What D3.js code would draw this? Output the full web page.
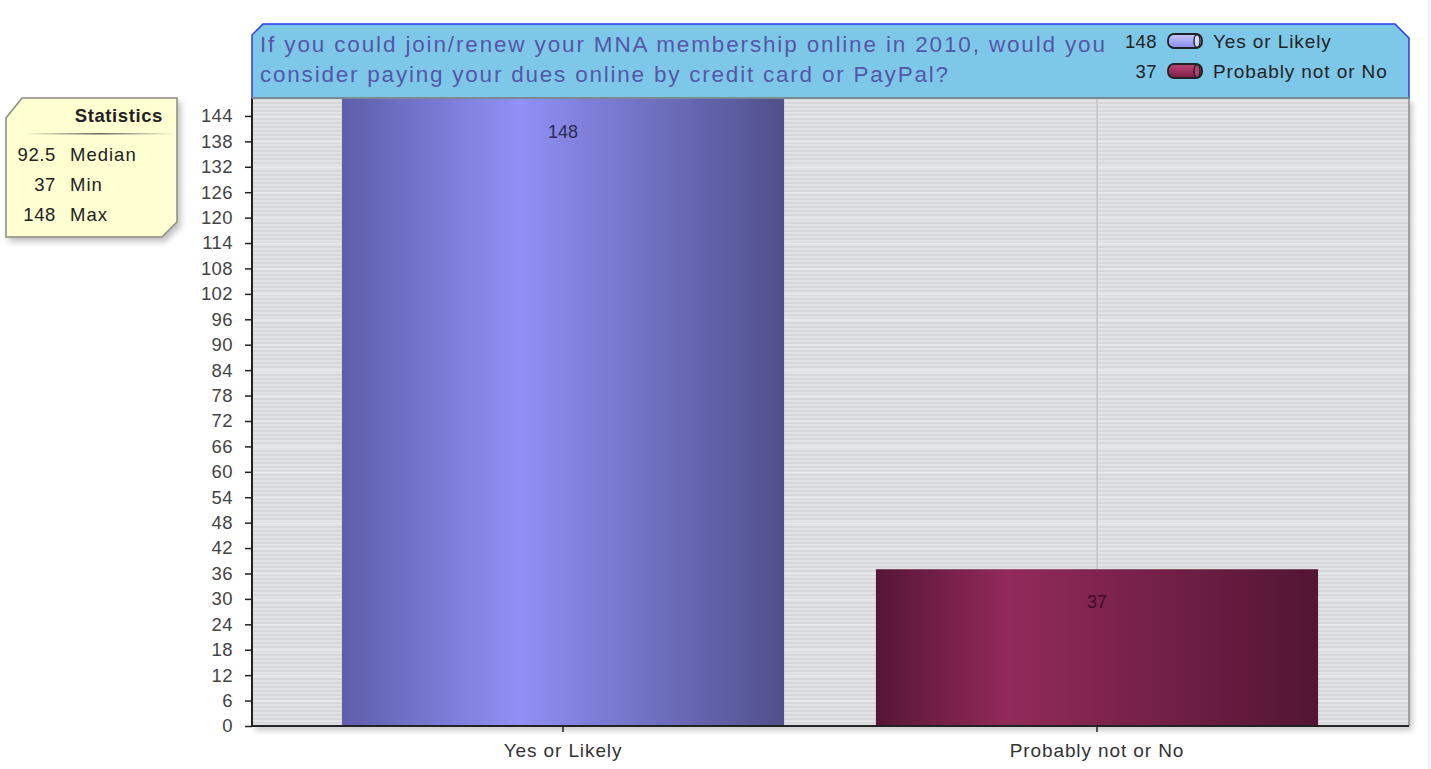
<!DOCTYPE html>
<html><head><meta charset="utf-8">
<script src="https://cdn.jsdelivr.net/npm/d3@7/dist/d3.min.js"></script>
<style>body{margin:0;background:#fff;overflow:hidden}svg{display:block;font-family:"Liberation Sans",Arial,sans-serif}</style>
</head><body><svg id="c" width="1431" height="769"></svg>
<script>
const categories = ["Yes or Likely", "Probably not or No"];
const values = [148, 37];
const yTicks = d3.range(0, 145, 6);
const titleLines = ["If you could join/renew your MNA membership online in 2010, would you", "consider paying your dues online by credit card or PayPal?"];
const statLabels = ["Median", "Min", "Max"];
const statValues = ["92.5", "37", "148"];

const svg = d3.select("#c");
const W = 1431, H = 769;
const L = 252, R = 1409, T = 98, B = 726;
const FF = "Liberation Sans, Arial, sans-serif";

svg.append("rect").attr("x",1427).attr("y",0).attr("width",4).attr("height",H).attr("fill","#eef4fb");

const defs = svg.append("defs");
const gA = defs.append("linearGradient").attr("id","gA");
[[0,"#5e5eaa"],[0.4,"#9090f6"],[1,"#50508c"]].forEach(s=>gA.append("stop").attr("offset",s[0]).attr("stop-color",s[1]));
const gB = defs.append("linearGradient").attr("id","gB");
[[0,"#561636"],[0.3,"#922a5a"],[1,"#521533"]].forEach(s=>gB.append("stop").attr("offset",s[0]).attr("stop-color",s[1]));
const lA = defs.append("linearGradient").attr("id","lA").attr("x1",0).attr("y1",0).attr("x2",0).attr("y2",1);
[[0,"#c8c8ff"],[1,"#8a8af0"]].forEach(s=>lA.append("stop").attr("offset",s[0]).attr("stop-color",s[1]));
const lB = defs.append("linearGradient").attr("id","lB").attr("x1",0).attr("y1",0).attr("x2",0).attr("y2",1);
[[0,"#c04878"],[1,"#7a1d45"]].forEach(s=>lB.append("stop").attr("offset",s[0]).attr("stop-color",s[1]));
const pat = defs.append("pattern").attr("id","stripes").attr("patternUnits","userSpaceOnUse").attr("width",8).attr("height",4);
pat.append("rect").attr("width",8).attr("height",4).attr("fill","#d6d7d9");
pat.append("rect").attr("y",0).attr("width",8).attr("height",2).attr("fill","#e2e3e5");
const sh = defs.append("filter").attr("id","sh").attr("x","-10%").attr("y","-10%").attr("width","130%").attr("height","130%");
sh.append("feGaussianBlur").attr("in","SourceAlpha").attr("stdDeviation",3);
sh.append("feOffset").attr("dx",3).attr("dy",4).attr("result","ob");
sh.append("feComponentTransfer").append("feFuncA").attr("type","linear").attr("slope",0.25);
const m = sh.append("feMerge"); m.append("feMergeNode"); m.append("feMergeNode").attr("in","SourceGraphic");

const y = d3.scaleLinear().domain([0,148]).range([B, 99]);
const x = d3.scaleBand().domain(categories).range([296,1364]).paddingInner(0.172).paddingOuter(0.086);

svg.append("rect").attr("x",L).attr("y",T).attr("width",R-L).attr("height",B-T).attr("fill","url(#stripes)").attr("filter","url(#sh)");
svg.append("g").selectAll("line").data(yTicks).join("line")
  .attr("x1",L).attr("x2",R).attr("y1",d=>y(d)+0.5).attr("y2",d=>y(d)+0.5).attr("stroke","#e9eaec").attr("stroke-width",1.5);
svg.append("g").selectAll("line").data(categories).join("line")
  .attr("x1",d=>x(d)+x.bandwidth()/2).attr("x2",d=>x(d)+x.bandwidth()/2).attr("y1",T).attr("y2",B)
  .attr("stroke","#c4c4c6").attr("stroke-width",1.5);
svg.append("line").attr("x1",R).attr("x2",R).attr("y1",T).attr("y2",B).attr("stroke","#8c8c8c").attr("stroke-width",1.5);

svg.append("g").selectAll("rect").data(values).join("rect")
  .attr("x",(d,i)=>x(categories[i])).attr("width",x.bandwidth())
  .attr("y",d=>y(d)).attr("height",d=>B-y(d))
  .attr("fill",(d,i)=>i===0?"url(#gA)":"url(#gB)");
svg.append("g").selectAll("text").data(values).join("text")
  .attr("x",(d,i)=>x(categories[i])+x.bandwidth()/2).attr("y",d=>y(d)+39)
  .attr("text-anchor","middle").attr("font-size",18)
  .attr("fill",(d,i)=>i===0?"#2c2c50":"#3a0e24").text(d=>d);

const ya = svg.append("g").attr("transform",`translate(${L},0)`)
  .call(d3.axisLeft(y).tickValues(yTicks).tickSize(7).tickPadding(12));
ya.select(".domain").attr("stroke","#222").attr("stroke-width",2).attr("d",`M0,${T}V${B}`);
ya.selectAll(".tick line").attr("stroke","#222").attr("stroke-width",1.5);
ya.selectAll(".tick text").attr("font-size",18.5).attr("fill","#444").attr("font-family",FF).style("letter-spacing","0.4px");

const xa = svg.append("g").attr("transform",`translate(0,${B})`)
  .call(d3.axisBottom(x).tickSize(6).tickPadding(11.5));
xa.select(".domain").attr("stroke","#222").attr("stroke-width",2).attr("d",`M${L},0H${R}`);
xa.selectAll(".tick line").attr("stroke","#222").attr("stroke-width",1.5);
xa.selectAll(".tick text").attr("font-size",19).attr("fill","#333").attr("font-family",FF).style("letter-spacing","0.9px");

const tb = svg.append("g");
tb.append("path").attr("d",`M${L},${T} L${L},35 L${L+11},24 L${R-14},24 L${R},38 L${R},${T} Z`)
  .attr("fill","#7dc8e8").attr("stroke","#2a3af0").attr("stroke-width",1.5);
tb.append("line").attr("x1",L).attr("x2",R).attr("y1",T).attr("y2",T).attr("stroke","#7a8a90").attr("stroke-width",2);
const titleW = [845, 688];
tb.selectAll("text.t").data(titleLines).join("text").attr("class","t")
  .attr("x",260).attr("y",(d,i)=>52+i*30).attr("font-size",22.5).attr("fill","#5656a8")
  .attr("textLength",(d,i)=>titleW[i]).attr("lengthAdjust","spacing").text(d=>d);
const lg = tb.selectAll("g.lg").data(categories).join("g").attr("class","lg")
  .attr("transform",(d,i)=>`translate(0,${41+i*30})`);
lg.append("text").attr("x",1157).attr("y",6.5).attr("text-anchor","end").attr("font-size",18.5).attr("fill","#222").style("letter-spacing","0.4px").text((d,i)=>values[i]);
lg.append("rect").attr("x",1168).attr("y",-7).attr("width",34).attr("height",14).attr("rx",6)
  .attr("fill",(d,i)=>i===0?"url(#lA)":"url(#lB)").attr("stroke","#222").attr("stroke-width",1.8);
lg.append("ellipse").attr("cx",1197).attr("cy",0).attr("rx",3).attr("ry",6.2)
  .attr("fill",(d,i)=>i===0?"#d8d8ff":"#b04070").attr("stroke","#222").attr("stroke-width",1.4);
lg.append("text").attr("x",1213).attr("y",6.5).attr("font-size",19).attr("fill","#222").style("letter-spacing","0.9px").text(d=>d);

const sb = svg.append("g");
sb.append("path").attr("d","M6,118 L22,98 L177,98 L177,222 L162,237 L6,237 Z")
  .attr("fill","#ffffd2").attr("stroke","#8a8a80").attr("stroke-width",1.5).attr("filter","url(#sh)");
sb.append("text").attr("x",163).attr("y",122).attr("text-anchor","end").attr("font-size",18.5).attr("font-weight","bold").attr("fill","#222").style("letter-spacing","0.6px").text("Statistics");
const sep = defs.append("linearGradient").attr("id","sep");
[[0,"#ffffd2"],[0.5,"#666"],[1,"#ffffd2"]].forEach(s=>sep.append("stop").attr("offset",s[0]).attr("stop-color",s[1]));
sb.append("rect").attr("x",24).attr("y",133).attr("width",150).attr("height",1.5).attr("fill","url(#sep)");
const rows = sb.selectAll("g.r").data(statLabels).join("g").attr("class","r").attr("transform",(d,i)=>`translate(0,${161+i*30})`);
rows.append("text").attr("x",56).attr("text-anchor","end").attr("font-size",18.5).attr("fill","#222").style("letter-spacing","0.6px").text((d,i)=>statValues[i]);
rows.append("text").attr("x",70).attr("font-size",18.5).attr("fill","#222").style("letter-spacing","1px").text(d=>d);
</script></body></html>
